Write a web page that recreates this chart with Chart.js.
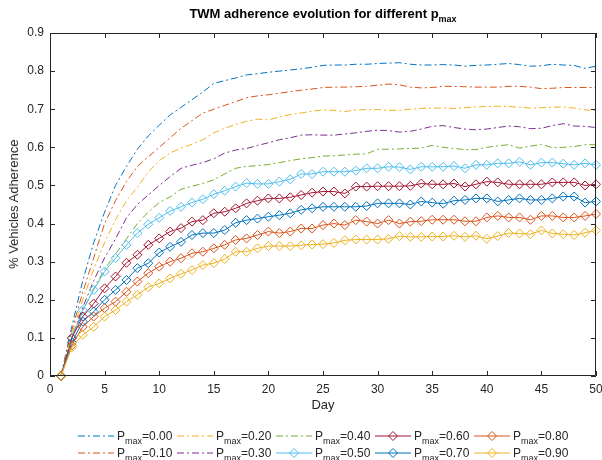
<!DOCTYPE html>
<html>
<head>
<meta charset="utf-8">
<script src="https://cdn.jsdelivr.net/npm/chart.js@4.4.1/dist/chart.umd.min.js"></script>
<style>
  body { margin: 0; background: #fff; font-family: "Liberation Sans", Arial, sans-serif; color: #262626; }
  #wrap { position: relative; width: 602px; height: 460px; overflow: hidden; }
  #chart { position: absolute; left: 0; top: 0; }
  #title { position: absolute; left: 50px; width: 546px; top: 6px; text-align: center; font-weight: bold; font-size: 13px; color: #000; white-space: nowrap; }
  #title sub, .leg sub { font-size: 9px; vertical-align: -4px; line-height: 0; }
  #xlabel { position: absolute; left: 50px; width: 546px; top: 397px; text-align: center; font-size: 13px; }
  #ylabel { position: absolute; left: 6px; top: 33px; height: 343px; font-size: 13px; font-weight: normal; white-space: nowrap;
            writing-mode: vertical-rl; transform: rotate(180deg); text-align: center; }
  .leg { position: absolute; height: 14px; font-size: 12px; white-space: nowrap; display: flex; align-items: center; }
  .leg svg { margin-right: 3px; }
</style>
</head>
<body>
<div id="wrap">
  <canvas id="chart" width="602" height="460"></canvas>
  <div id="title">TWM adherence evolution for different p<sub>max</sub></div>
  <div id="xlabel">Day</div>
  <div id="ylabel">% Vehicles Adherence</div>
  <div id="legend"></div>
</div>
<script>
// x axis: day 1..50
const days = [1,2,3,4,5,6,7,8,9,10,11,12,13,14,15,16,17,18,19,20,21,22,23,24,25,
  26,27,28,29,30,31,32,33,34,35,36,37,38,39,40,41,42,43,44,45,46,47,48,49,50];

const pmaxLabels = ['0.00', '0.10', '0.20', '0.30', '0.40', '0.50', '0.60', '0.70', '0.80', '0.90'];
const colors = ['#0072BD', '#D95319', '#EDB120', '#7E2F8E', '#77AC30', '#4DBEEE', '#A2142F', '#0072BD', '#D95319', '#EDB120'];

// values
const p000 = [0, 0.13, 0.25, 0.35, 0.43, 0.50, 0.55, 0.595, 0.63, 0.658, 0.685, 0.705, 0.725, 0.745, 0.768,
  0.775, 0.782, 0.79, 0.793, 0.797, 0.80, 0.803, 0.806, 0.81, 0.815, 0.816, 0.816, 0.818, 0.818, 0.82,
  0.821, 0.822, 0.818, 0.816, 0.816, 0.817, 0.816, 0.813, 0.815, 0.816, 0.818, 0.82, 0.817, 0.813, 0.814,
  0.818, 0.816, 0.815, 0.807, 0.813];
const p010 = [0, 0.12, 0.22, 0.31, 0.40, 0.46, 0.51, 0.55, 0.575, 0.60, 0.625, 0.65, 0.67, 0.69, 0.70,
  0.71, 0.72, 0.73, 0.735, 0.738, 0.742, 0.746, 0.75, 0.753, 0.757, 0.758, 0.758, 0.759, 0.76, 0.763,
  0.766, 0.764, 0.758, 0.756, 0.757, 0.76, 0.76, 0.759, 0.758, 0.758, 0.758, 0.76, 0.76, 0.758, 0.754,
  0.755, 0.757, 0.757, 0.757, 0.757];
const p020 = [0, 0.11, 0.20, 0.28, 0.35, 0.41, 0.46, 0.495, 0.535, 0.565, 0.585, 0.598, 0.608, 0.62, 0.638,
  0.65, 0.66, 0.668, 0.674, 0.672, 0.68, 0.686, 0.69, 0.695, 0.698, 0.697, 0.694, 0.698, 0.699, 0.699,
  0.697, 0.697, 0.70, 0.702, 0.703, 0.703, 0.702, 0.704, 0.706, 0.707, 0.708, 0.707, 0.705, 0.703, 0.704,
  0.705, 0.706, 0.703, 0.698, 0.697];
const p030 = [0, 0.10, 0.18, 0.25, 0.31, 0.36, 0.415, 0.45, 0.475, 0.50, 0.523, 0.545, 0.553, 0.56, 0.57,
  0.585, 0.593, 0.597, 0.605, 0.612, 0.62, 0.625, 0.632, 0.633, 0.632, 0.632, 0.635, 0.638, 0.642, 0.645,
  0.644, 0.64, 0.642, 0.648, 0.655, 0.657, 0.652, 0.648, 0.646, 0.648, 0.652, 0.656, 0.654, 0.649, 0.65,
  0.657, 0.662, 0.656, 0.655, 0.652];
const p040 = [0, 0.10, 0.17, 0.23, 0.28, 0.32, 0.36, 0.40, 0.43, 0.455, 0.47, 0.49, 0.498, 0.505, 0.515,
  0.53, 0.545, 0.55, 0.552, 0.555, 0.56, 0.565, 0.57, 0.573, 0.577, 0.578, 0.58, 0.582, 0.583, 0.595,
  0.595, 0.596, 0.597, 0.598, 0.605, 0.60, 0.597, 0.594, 0.594, 0.60, 0.604, 0.607, 0.598, 0.603, 0.608,
  0.599, 0.60, 0.602, 0.607, 0.607];
const p050 = [0, 0.099, 0.173, 0.226, 0.274, 0.309, 0.344, 0.375, 0.398, 0.415, 0.433, 0.444, 0.455, 0.464, 0.477,
  0.486, 0.497, 0.506, 0.504, 0.504, 0.51, 0.516, 0.53, 0.53, 0.536, 0.536, 0.536, 0.539, 0.545, 0.545,
  0.549, 0.548, 0.542, 0.549, 0.549, 0.549, 0.551, 0.545, 0.554, 0.554, 0.558, 0.558, 0.562, 0.554, 0.56,
  0.56, 0.557, 0.554, 0.558, 0.554];
const p060 = [0, 0.10, 0.156, 0.19, 0.23, 0.261, 0.297, 0.318, 0.344, 0.361, 0.379, 0.388, 0.405, 0.409, 0.427,
  0.431, 0.44, 0.453, 0.46, 0.466, 0.466, 0.469, 0.475, 0.481, 0.484, 0.484, 0.479, 0.497, 0.497, 0.498,
  0.498, 0.498, 0.499, 0.505, 0.503, 0.503, 0.505, 0.497, 0.503, 0.51, 0.508, 0.503, 0.503, 0.503, 0.503,
  0.508, 0.508, 0.508, 0.50, 0.503];
const p070 = [0, 0.088, 0.143, 0.169, 0.20, 0.226, 0.252, 0.283, 0.296, 0.324, 0.339, 0.352, 0.37, 0.375, 0.375,
  0.383, 0.402, 0.409, 0.413, 0.418, 0.422, 0.427, 0.436, 0.44, 0.444, 0.444, 0.444, 0.444, 0.446, 0.453,
  0.453, 0.453, 0.45, 0.458, 0.455, 0.452, 0.46, 0.462, 0.466, 0.466, 0.458, 0.462, 0.466, 0.462, 0.462,
  0.466, 0.471, 0.471, 0.455, 0.458];
const p080 = [0, 0.08, 0.129, 0.156, 0.178, 0.195, 0.221, 0.248, 0.27, 0.287, 0.30, 0.309, 0.322, 0.326, 0.335,
  0.344, 0.357, 0.361, 0.37, 0.379, 0.375, 0.379, 0.387, 0.387, 0.396, 0.40, 0.396, 0.409, 0.405, 0.40,
  0.409, 0.40, 0.405, 0.406, 0.41, 0.41, 0.41, 0.406, 0.406, 0.416, 0.42, 0.416, 0.416, 0.41, 0.42,
  0.42, 0.416, 0.416, 0.42, 0.425];
const p090 = [0, 0.075, 0.108, 0.129, 0.156, 0.173, 0.195, 0.213, 0.233, 0.243, 0.256, 0.268, 0.278, 0.291, 0.296,
  0.307, 0.326, 0.326, 0.335, 0.341, 0.341, 0.341, 0.343, 0.345, 0.346, 0.349, 0.356, 0.358, 0.358, 0.358,
  0.36, 0.367, 0.365, 0.365, 0.366, 0.366, 0.368, 0.365, 0.368, 0.36, 0.367, 0.375, 0.374, 0.372, 0.382,
  0.374, 0.372, 0.37, 0.376, 0.382];

const series = [p000, p010, p020, p030, p040, p050, p060, p070, p080, p090];
const withMarkers = [false, false, false, false, false, true, true, true, true, true];

const xTicks = [0, 5, 10, 15, 20, 25, 30, 35, 40, 45, 50];
const yTicks = [0, 0.1, 0.2, 0.3, 0.4, 0.5, 0.6, 0.7, 0.8, 0.9];

const axisColor = '#262626';
const dashDot = [7, 3, 2, 3];

var datasets = series.map(function (vals, i) {
  return {
    label: 'Pmax=' + pmaxLabels[i],
    data: vals.map(function (v, k) { return {x: days[k], y: v}; }),
    borderColor: colors[i],
    borderWidth: 1,
    borderDash: withMarkers[i] ? [] : dashDot,
    pointStyle: 'rectRot',
    pointRadius: withMarkers[i] ? 4.5 : 0,
    pointBorderColor: colors[i],
    pointBackgroundColor: 'rgba(0,0,0,0)',
    pointBorderWidth: 1,
    tension: 0,
    clip: false,
    order: 9 - i
  };
});

// MATLAB style box with inward ticks on all four sides
const boxTicks = {
  id: 'boxTicks',
  afterDraw(chart) {
    const ctx = chart.ctx;
    const a = chart.chartArea;
    const x = chart.scales.x, y = chart.scales.y;
    ctx.save();
    ctx.strokeStyle = axisColor;
    ctx.lineWidth = 1;
    ctx.beginPath();
    ctx.rect(Math.round(a.left) + 0.5, Math.round(a.top) + 0.5, Math.round(a.right - a.left) - 1, Math.round(a.bottom - a.top) - 1);
    xTicks.forEach(function (t) {
      const px = Math.round(x.getPixelForValue(t)) + 0.5;
      ctx.moveTo(px, a.bottom); ctx.lineTo(px, a.bottom - 5);
      ctx.moveTo(px, a.top); ctx.lineTo(px, a.top + 5);
    });
    yTicks.forEach(function (t) {
      const py = Math.round(y.getPixelForValue(t)) + 0.5;
      ctx.moveTo(a.left, py); ctx.lineTo(a.left + 5, py);
      ctx.moveTo(a.right, py); ctx.lineTo(a.right - 5, py);
    });
    ctx.stroke();
    ctx.restore();
  }
};

var ctx = document.querySelector('#chart').getContext('2d');

var chart = new Chart(ctx, {
  type: 'line',
  data: { datasets: datasets },
  options: {
    responsive: false,
    animation: false,
    layout: { padding: { left: 0, right: 6, top: 33, bottom: 0 } },
    plugins: { legend: { display: false }, tooltip: { enabled: false }, title: { display: false } },
    scales: {
      x: {
        type: 'linear', min: 0, max: 50,
        afterFit: function (s) { s.height = 84; s.paddingLeft = 0; s.paddingRight = 0; },
        afterBuildTicks: function (s) { s.ticks = xTicks.map(function (v) { return {value: v}; }); },
        grid: { display: false, drawTicks: false },
        border: { display: false },
        ticks: { padding: 6, color: axisColor, font: { family: 'Liberation Sans', size: 12 }, maxRotation: 0 }
      },
      y: {
        type: 'linear', min: 0, max: 0.9,
        afterFit: function (s) { s.width = 50; s.paddingTop = 0; s.paddingBottom = 0; },
        afterBuildTicks: function (s) { s.ticks = yTicks.map(function (v) { return {value: v}; }); },
        grid: { display: false, drawTicks: false },
        border: { display: false },
        ticks: { padding: 6, color: axisColor, font: { family: 'Liberation Sans', size: 12 },
                 callback: function (v) { return String(Math.round(v * 10) / 10); } }
      }
    }
  },
  plugins: [boxTicks]
});

// legend: 2 rows x 5 columns, column-major like the original
var legend = document.querySelector('#legend');
pmaxLabels.forEach(function (lab, i) {
  var col = Math.floor(i / 2), row = i % 2;
  var item = document.createElement('div');
  item.className = 'leg';
  item.style.left = (78 + col * 99) + 'px';
  item.style.top = (429 + row * 17) + 'px';
  var dash = withMarkers[i] ? '' : ' stroke-dasharray="' + dashDot.join(' ') + '"';
  var marker = withMarkers[i]
    ? '<polygon points="18,2.5 22.5,7 18,11.5 13.5,7" fill="none" stroke="' + colors[i] + '" stroke-width="1"/>'
    : '';
  item.innerHTML = '<svg width="36" height="14"><line x1="0" y1="7" x2="36" y2="7" stroke="' + colors[i] +
    '" stroke-width="1"' + dash + '/>' + marker + '</svg>' +
    '<span>P<sub>max</sub>=' + lab + '</span>';
  legend.appendChild(item);
});
</script>
</body>
</html>
